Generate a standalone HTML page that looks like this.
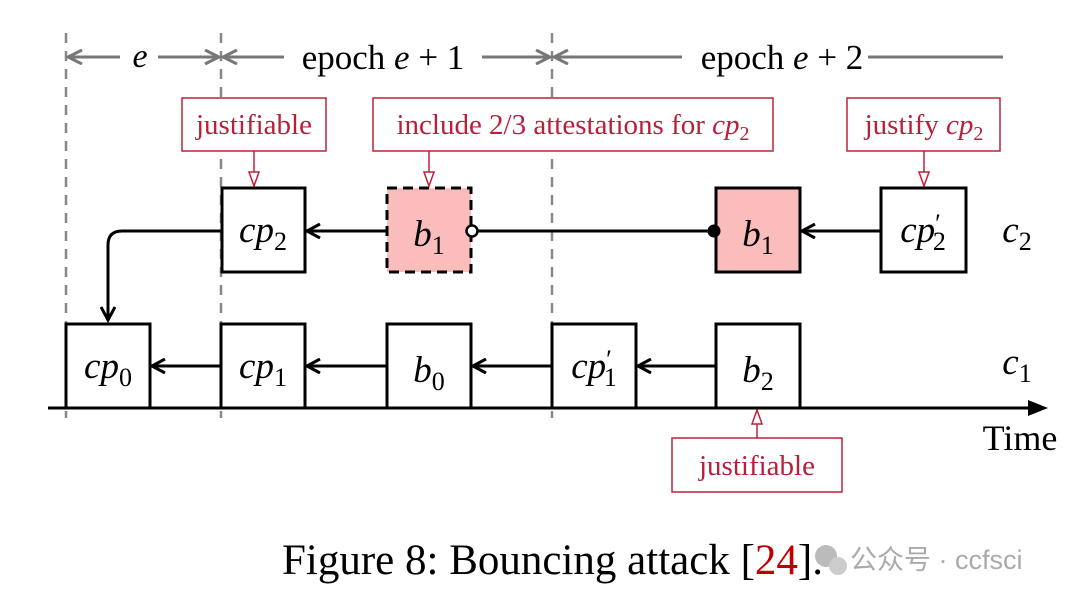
<!DOCTYPE html>
<html><head><meta charset="utf-8"><style>
html,body{margin:0;padding:0;background:#fff;}
svg{display:block;}
text{font-family:"Liberation Serif",serif;}
.it{font-style:italic;}
</style></head><body>
<svg width="1080" height="601" viewBox="0 0 1080 601" xmlns="http://www.w3.org/2000/svg">
<defs>
<marker id="ga" markerWidth="18" markerHeight="16" refX="16" refY="8" orient="auto" markerUnits="userSpaceOnUse"><path d="M2,1 L16,8 L2,15" fill="none" stroke="#777" stroke-width="3"/></marker>
<marker id="ba" markerWidth="18" markerHeight="16" refX="15" refY="8" orient="auto" markerUnits="userSpaceOnUse"><path d="M2,1 L15,8 L2,15" fill="none" stroke="#000" stroke-width="3"/></marker>
</defs>
<g stroke="#888" stroke-width="2.5" stroke-dasharray="10,8">
<line x1="66" y1="33" x2="66" y2="418"/>
<line x1="221" y1="33" x2="221" y2="418"/>
<line x1="552" y1="33" x2="552" y2="418"/>
</g>
<g stroke="#777" stroke-width="3" fill="none">
<line x1="120" y1="57" x2="68" y2="57" marker-end="url(#ga)"/>
<line x1="158" y1="57" x2="219" y2="57" marker-end="url(#ga)"/>
<line x1="284" y1="57" x2="223" y2="57" marker-end="url(#ga)"/>
<line x1="482" y1="57" x2="550" y2="57" marker-end="url(#ga)"/>
<line x1="682" y1="57" x2="554" y2="57" marker-end="url(#ga)"/>
<line x1="868" y1="57" x2="1003" y2="57"/>
</g>
<text x="140" y="67" font-size="34" text-anchor="middle" class="it">e</text>
<text x="383" y="69" font-size="35" text-anchor="middle">epoch <tspan class="it">e</tspan> + 1</text>
<text x="782" y="69" font-size="35" text-anchor="middle">epoch <tspan class="it">e</tspan> + 2</text>
<g stroke="#c0203a" stroke-width="1.5" fill="#fff">
<rect x="182" y="98" width="144" height="53"/>
<rect x="373" y="98" width="400" height="53"/>
<rect x="847" y="98" width="153" height="53"/>
<rect x="672" y="438" width="170" height="54"/>
<line x1="254" y1="151" x2="254" y2="172"/>
<line x1="429" y1="151" x2="429" y2="172"/>
<line x1="924" y1="151" x2="924" y2="172"/>
<line x1="757" y1="438" x2="757" y2="424"/>
<path d="M249,172 L259,172 L254,186 Z"/>
<path d="M424,172 L434,172 L429,186 Z"/>
<path d="M919,172 L929,172 L924,186 Z"/>
<path d="M752,424 L762,424 L757,410 Z"/>
</g>
<g fill="#b8203a" font-size="29" text-anchor="middle">
<text x="254" y="134">justifiable</text>
<text x="573" y="134">include 2/3 attestations for <tspan class="it">cp</tspan><tspan font-size="20" dy="6">2</tspan></text>
<text x="924" y="134">justify <tspan class="it">cp</tspan><tspan font-size="20" dy="6">2</tspan></text>
<text x="757" y="475">justifiable</text>
</g>
<g stroke="#000" stroke-width="3">
<rect x="222" y="188" width="83" height="84" fill="#fff"/>
<rect x="387" y="188" width="84" height="84" fill="#fbbcbc" stroke-dasharray="10,6"/>
<rect x="716" y="188" width="84" height="84" fill="#fbbcbc"/>
<rect x="881" y="188" width="85" height="84" fill="#fff"/>
<path d="M221,231 L122,231 Q108,231 108,245 L108,320" fill="none" marker-end="url(#ba)"/>
<line x1="387" y1="231" x2="307" y2="231" marker-end="url(#ba)"/>
<line x1="477" y1="231" x2="716" y2="231"/>
<line x1="881" y1="231" x2="802" y2="231" marker-end="url(#ba)"/>
</g>
<circle cx="472" cy="231" r="5.5" fill="#fff" stroke="#000" stroke-width="2.5"/>
<circle cx="714" cy="231" r="6.5" fill="#000"/>
<g stroke="#000" stroke-width="3" fill="#fff">
<rect x="66" y="324" width="84" height="84"/>
<rect x="221" y="324" width="84" height="84"/>
<rect x="387" y="324" width="84" height="84"/>
<rect x="552" y="324" width="84" height="84"/>
<rect x="716" y="324" width="84" height="84"/>
<line x1="221" y1="366" x2="152" y2="366" marker-end="url(#ba)"/>
<line x1="387" y1="366" x2="307" y2="366" marker-end="url(#ba)"/>
<line x1="552" y1="366" x2="473" y2="366" marker-end="url(#ba)"/>
<line x1="716" y1="366" x2="638" y2="366" marker-end="url(#ba)"/>
<line x1="48" y1="408" x2="1030" y2="408"/>
</g>
<path d="M1028,400 L1048,408 L1028,416 Z" fill="#000"/>
<g font-size="37" text-anchor="middle">
<text x="263" y="242"><tspan class="it">cp</tspan><tspan font-size="26" dy="8">2</tspan></text>
<text x="429" y="246"><tspan class="it">b</tspan><tspan font-size="26" dy="8">1</tspan></text>
<text x="758" y="246"><tspan class="it">b</tspan><tspan font-size="26" dy="8">1</tspan></text>
<text x="923" y="242"><tspan class="it">cp</tspan><tspan font-size="26" dy="-10">′</tspan><tspan font-size="26" dx="-8" dy="18">2</tspan></text>
<text x="1017" y="242" class="it">c<tspan font-size="26" dy="8" font-style="normal">2</tspan></text>
<text x="108" y="378"><tspan class="it">cp</tspan><tspan font-size="26" dy="8">0</tspan></text>
<text x="263" y="378"><tspan class="it">cp</tspan><tspan font-size="26" dy="8">1</tspan></text>
<text x="429" y="382"><tspan class="it">b</tspan><tspan font-size="26" dy="8">0</tspan></text>
<text x="594" y="378"><tspan class="it">cp</tspan><tspan font-size="26" dy="-10">′</tspan><tspan font-size="26" dx="-8" dy="18">1</tspan></text>
<text x="758" y="382"><tspan class="it">b</tspan><tspan font-size="26" dy="8">2</tspan></text>
<text x="1017" y="374" class="it">c<tspan font-size="26" dy="8" font-style="normal">1</tspan></text>
</g>
<text x="1020" y="450" font-size="36" text-anchor="middle">Time</text>
<text x="282" y="574" font-size="43">Figure 8: Bouncing attack [<tspan fill="#c00000">24</tspan>].</text>
<circle cx="826" cy="556" r="11" fill="#bbb"/>
<circle cx="838" cy="566" r="9" fill="#ccc"/>
<text x="850" y="569" font-size="27" fill="#aaa" style="font-family:'Liberation Sans','Noto Sans CJK SC',sans-serif">公众号 · ccfsci</text>
</svg>
</body></html>
